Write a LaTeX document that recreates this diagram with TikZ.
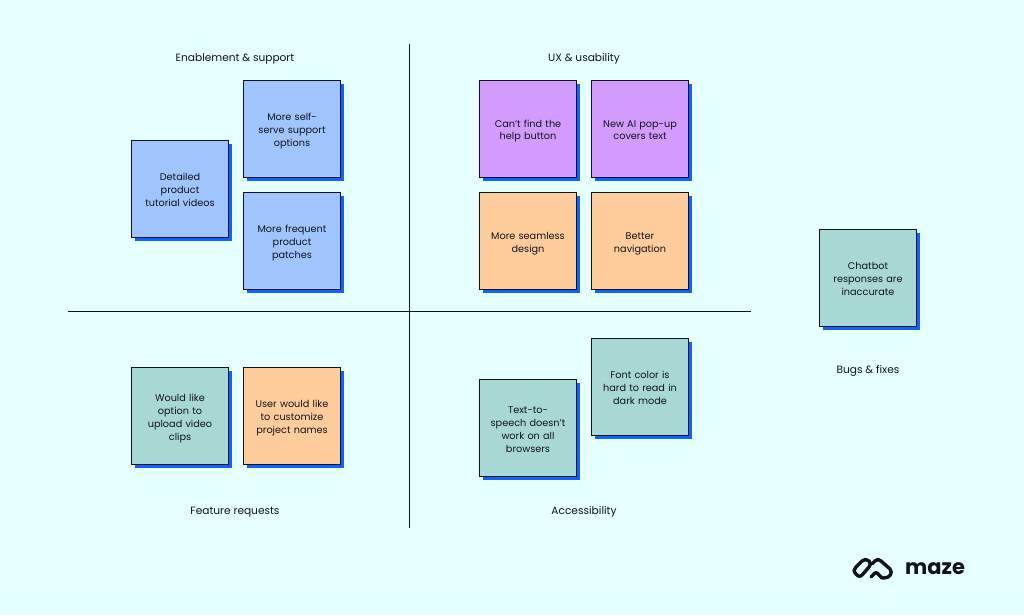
\documentclass[tikz,border=0pt]{standalone}
\usepackage{fontspec}
\setmainfont{Poppins}
\usetikzlibrary{positioning,shadows}
\definecolor{bgcol}{HTML}{E6FFFF}
\definecolor{inkcol}{HTML}{10141A}
\definecolor{shadowcol}{HTML}{0F62FE}
\definecolor{bluenote}{HTML}{A0C4FF}
\definecolor{purplenote}{HTML}{D49BFF}
\definecolor{orangenote}{HTML}{FFCC9C}
\definecolor{greennote}{HTML}{A8D8D4}
\tikzset{
 note/.style={draw=inkcol,line width=1.2pt,minimum size=97pt,inner sep=0pt,text width=88pt,
  align=center,font=\fontsize{9.7}{13}\selectfont,text=inkcol,
  execute at begin node={\rule{0pt}{12pt}},
  execute at end node={\rule[-3pt]{0pt}{3pt}},
  drop shadow={shadow xshift=3.4pt,shadow yshift=-3.4pt,fill=shadowcol,opacity=1}},
 heading/.style={font=\fontsize{10.6}{13}\selectfont,text=inkcol,inner sep=0pt},
 axis/.style={draw=inkcol,line width=0.9pt},
 logoline/.style={draw=inkcol,line width=3.4pt,line cap=round,line join=round}
}
\begin{document}
\begin{tikzpicture}[x=1pt,y=-1pt]
\fill[bgcol] (0,0) rectangle (1024,615);
\useasboundingbox (0,0) rectangle (1024,615);
% axes
\coordinate (top) at (409.7,44);
\coordinate (bottom) at (409.7,528);
\coordinate (left) at (68,311.7);
\coordinate (right) at (751,311.7);
\draw[axis] (top) -- (bottom);
\draw[axis] (left) -- (right);
% headings
\node[heading] (enablement) at (235,59) {Enablement \& support};
\node[heading] (ux) at (584,59) {UX \& usability};
\node[heading] (bugs) at (868,371) {Bugs \& fixes};
\node[heading] (requests) at (235,512) {Feature requests};
\node[heading] (access) at (584,512) {Accessibility};
% notes
\node[note,fill=bluenote] (videos) at (180,189) {Detailed\\product\\tutorial videos};
\node[note,fill=bluenote] (selfserve) at (292,129) {More self-\\serve support\\options};
\node[note,fill=bluenote] (patches) at (292,241) {More frequent\\product\\patches};
\node[note,fill=purplenote] (help) at (528,129) {Can't find the\\help button};
\node[note,fill=purplenote] (popup) at (640,129) {New AI pop-up\\covers text};
\node[note,fill=orangenote] (seamless) at (528,241) {More seamless\\design};
\node[note,fill=orangenote] (navigation) at (640,241) {Better\\navigation};
\node[note,fill=greennote] (chatbot) at (868,278) {Chatbot\\responses are\\inaccurate};
\node[note,fill=greennote] (upload) at (180,416) {Would like\\option to\\upload video\\clips};
\node[note,fill=orangenote] (customize) at (292,416) {User would like\\to customize\\project names};
\node[note,fill=greennote] (speech) at (528,428) {Text-to-\\speech doesn't\\work on all\\browsers};
\node[note,fill=greennote] (fontcolor) at (640,387) {Font color is\\hard to read in\\dark mode};
% logo
\draw[logoline]
 (856,574) .. controls (853,571) and (854,569) .. (856,567)
 -- (862,561) .. controls (864,559) and (867,559) .. (869,561)
 .. controls (871,563) and (871,565) .. (869,567)
 -- (863,574) .. controls (861,577) and (858,577) .. (856,574);
\draw[logoline]
 (871,577) -- (873,575) .. controls (875,572) and (877,572) .. (879,575)
 -- (880,576) .. controls (881,578) and (882,578) .. (884,578)
 .. controls (890,578) and (893,573) .. (890,569)
 -- (881,561) .. controls (879,559) and (877,559) .. (875,561) -- (872,564);
\node[font=\fontsize{21}{24}\selectfont\bfseries,text=inkcol,anchor=west,inner sep=0pt] (maze) at (905,568.5) {maze};
\end{tikzpicture}
\end{document}
